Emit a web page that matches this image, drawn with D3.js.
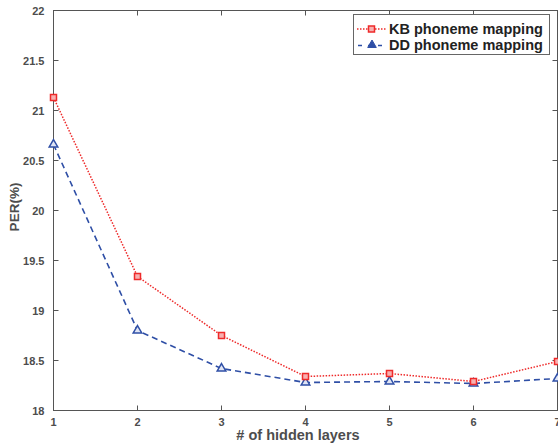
<!DOCTYPE html>
<html>
<head>
<meta charset="utf-8">
<script src="https://cdn.jsdelivr.net/npm/d3@7"></script>
<style>
  body { margin: 0; background: #fff; }
  text { font-family: "Liberation Sans", Arial, sans-serif; font-weight: bold; fill: #4d4d4d; }
</style>
</head>
<body>
<div id="chart"></div>
<script>
// chart data
const layers = [1, 2, 3, 4, 5, 6, 7];
const kbValues = [21.13, 19.34, 18.75, 18.34, 18.37, 18.29, 18.49];
const ddValues = [20.66, 18.80, 18.42, 18.28, 18.29, 18.27, 18.32];
const yTicks = [18, 18.5, 19, 19.5, 20, 20.5, 21, 21.5, 22];
const seriesNames = ["KB phoneme mapping", "DD phoneme mapping"];

var chart_width = 558;
var chart_height = 443;

let svg = d3.select('#chart')
    .append('svg')
    .attr('width', chart_width)
    .attr('height', chart_height)

const plotLeft = 53.5, plotRight = 557.5, plotTop = 10.5, plotBottom = 410.5;

const x = d3.scaleLinear()
    .domain([1, 7])
    .range([plotLeft, plotRight])

const y = d3.scaleLinear()
    .domain([18, 22])
    .range([plotBottom, plotTop])

const axisColor = '#555';

// box
svg.append('rect')
    .attr('x', plotLeft).attr('y', plotTop)
    .attr('width', plotRight - plotLeft).attr('height', plotBottom - plotTop)
    .attr('fill', 'none').attr('stroke', axisColor).attr('stroke-width', 1)

// inward ticks - bottom/top
layers.forEach(function (d) {
    svg.append('line')
        .attr('x1', x(d)).attr('x2', x(d))
        .attr('y1', plotBottom).attr('y2', plotBottom - 5)
        .attr('stroke', axisColor)
    svg.append('line')
        .attr('x1', x(d)).attr('x2', x(d))
        .attr('y1', plotTop).attr('y2', plotTop + 5)
        .attr('stroke', axisColor)
    svg.append('text')
        .attr('x', x(d)).attr('y', plotBottom + 15)
        .attr('text-anchor', 'middle')
        .attr('font-size', 11)
        .text(d)
})

// inward ticks - left/right
yTicks.forEach(function (d) {
    svg.append('line')
        .attr('x1', plotLeft).attr('x2', plotLeft + 5)
        .attr('y1', y(d)).attr('y2', y(d))
        .attr('stroke', axisColor)
    svg.append('line')
        .attr('x1', plotRight).attr('x2', plotRight - 5)
        .attr('y1', y(d)).attr('y2', y(d))
        .attr('stroke', axisColor)
    svg.append('text')
        .attr('x', plotLeft - 9).attr('y', y(d) + 4)
        .attr('text-anchor', 'end')
        .attr('font-size', 11)
        .text(d)
})

// axis titles
svg.append('text')
    .attr('x', 298).attr('y', 440)
    .attr('text-anchor', 'middle')
    .attr('font-size', 14.5)
    .text('# of hidden layers')

svg.append('text')
    .attr('transform', 'translate(19,207) rotate(-90)')
    .attr('text-anchor', 'middle')
    .attr('font-size', 13.5)
    .text('PER(%)')

const line = d3.line()
    .x(function (d, i) { return x(layers[i]); })
    .y(function (d) { return y(d); })

const red = '#ee2a2a', blue = '#2f4fa6';

svg.append('path')
    .datum(kbValues)
    .attr('d', line)
    .attr('fill', 'none')
    .attr('stroke', red)
    .attr('stroke-width', 1.5)
    .attr('stroke-dasharray', '1.5,1.5')

svg.append('path')
    .datum(ddValues)
    .attr('d', line)
    .attr('fill', 'none')
    .attr('stroke', blue)
    .attr('stroke-width', 1.6)
    .attr('stroke-dasharray', '6,4')

const triangle = d3.symbol().type(d3.symbolTriangle).size(32);

svg.selectAll('.dd')
    .data(ddValues)
    .enter()
    .append('path')
    .attr('class', 'dd')
    .attr('d', triangle)
    .attr('transform', function (d, i) { return 'translate(' + x(layers[i]) + ',' + y(d) + ')'; })
    .attr('fill', '#dfe4f4')
    .attr('stroke', blue)
    .attr('stroke-width', 1.5)

svg.selectAll('.kb')
    .data(kbValues)
    .enter()
    .append('rect')
    .attr('class', 'kb')
    .attr('x', function (d, i) { return x(layers[i]) - 3; })
    .attr('y', function (d) { return y(d) - 3; })
    .attr('width', 6).attr('height', 6)
    .attr('fill', '#f7b0b0')
    .attr('stroke', red)
    .attr('stroke-width', 1.5)

// legend
const lg = svg.append('g')
lg.append('rect')
    .attr('x', 353.5).attr('y', 14.5)
    .attr('width', 196).attr('height', 40)
    .attr('fill', '#fff').attr('stroke', '#666')

lg.append('line')
    .attr('x1', 357).attr('x2', 386).attr('y1', 29).attr('y2', 29)
    .attr('stroke', red).attr('stroke-width', 1.5).attr('stroke-dasharray', '1.5,1.5')
lg.append('rect')
    .attr('x', 368.5).attr('y', 26).attr('width', 6).attr('height', 6)
    .attr('fill', '#f7b0b0').attr('stroke', red).attr('stroke-width', 1.5)

lg.append('line')
    .attr('x1', 358).attr('x2', 387).attr('y1', 45.5).attr('y2', 45.5)
    .attr('stroke', blue).attr('stroke-width', 1.6).attr('stroke-dasharray', '4,6')
lg.append('path')
    .attr('d', triangle)
    .attr('transform', 'translate(372,45)')
    .attr('fill', blue).attr('stroke', blue).attr('stroke-width', 1)

seriesNames.forEach(function (name, i) {
    lg.append('text')
        .attr('x', 389).attr('y', 34 + i * 16)
        .attr('font-size', 14.5)
        .style('fill', '#222')
        .text(name)
})
</script>
</body>
</html>
